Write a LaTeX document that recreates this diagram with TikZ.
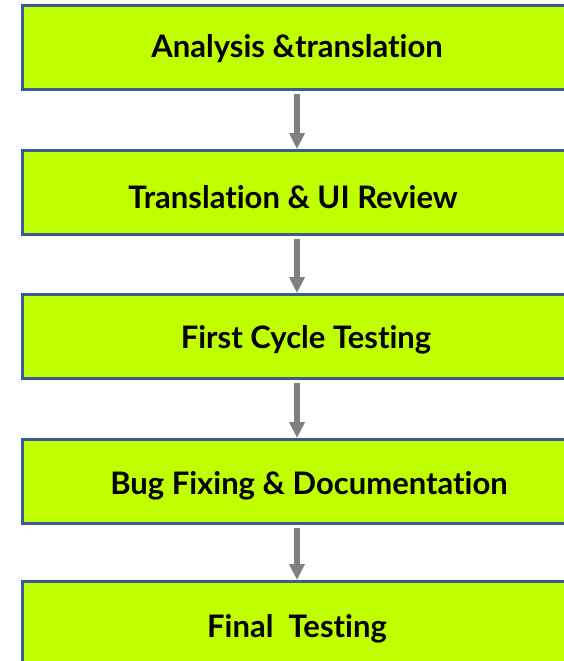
\documentclass[tikz,border=0pt]{standalone}
\usepackage{fontspec}
\setmainfont[Ligatures=NoCommon]{Lato}
\usetikzlibrary{arrows.meta}
\definecolor{boxfill}{HTML}{BFFF00}
\definecolor{boxline}{HTML}{3A5A98}
\definecolor{arrowgray}{HTML}{808080}
\tikzset{
  stage/.style={draw=boxline, line width=2.6pt, fill=boxfill, minimum width=556pt, minimum height=84pt, inner sep=0pt, anchor=north west},
  lbl/.style={font=\fontsize{31}{36}\selectfont\bfseries, text=black, inner sep=0pt},
  flow/.style={draw=arrowgray, line width=5.5pt, -{Triangle[width=15pt,length=16pt]}, shorten <=3pt}
}
\begin{document}
\begin{tikzpicture}[x=1pt,y=-1pt]
\useasboundingbox (0,0) rectangle (564,661);
\clip (0,0) rectangle (564,661);
\node[stage] (b1) at (21,4) {};
\node[stage] (b2) at (21,149) {};
\node[stage] (b3) at (21,293) {};
\node[stage] (b4) at (21,438) {};
\node[stage, minimum height=100pt] (b5) at (21,580) {};
\node[lbl] (t1) at (297,49) {Analysis \&translation};
\node[lbl] (t2) at (293,197) {Translation \& UI Review};
\node[lbl] (t3) at (306,340) {First Cycle Testing};
\node[lbl] (t4) at (309,486) {Bug Fixing \& Documentation};
\node[lbl] (t5) at (297,629) {Final\ \ Testing};
\draw[flow] (b1.south -| 297,0) -- (b2.north -| 297,0);
\draw[flow] (b2.south -| 297,0) -- (b3.north -| 297,0);
\draw[flow] (b3.south -| 297,0) -- (b4.north -| 297,0);
\draw[flow] (b4.south -| 297,0) -- (b5.north -| 297,0);
\end{tikzpicture}
\end{document}
